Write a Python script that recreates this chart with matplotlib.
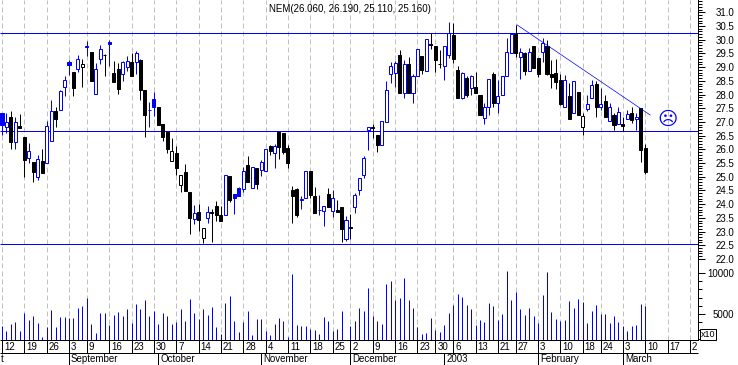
import matplotlib
matplotlib.use("Agg")
import matplotlib.pyplot as plt
from matplotlib.patches import Rectangle
from matplotlib.ticker import MultipleLocator, NullFormatter
import numpy as np

title = "NEM(26.060, 26.190, 25.110, 25.160)"

prev_close = 26.70
opens = [27.31, 26.80, 27.19, 26.28, 26.85, 26.44, 25.70, 25.52, 25.00, 25.56,
         25.51, 26.32, 27.40, 27.44, 28.29, 29.19, 28.82, 28.94, 29.02, 29.75,
         29.55, 28.03, 29.28, 29.45, 29.92, 28.79, 28.93, 28.73, 29.02, 29.19,
         29.19, 29.26, 28.17, 27.43, 27.84, 27.54, 26.92, 26.64, 25.56, 25.85,
         24.69, 25.17, 24.44, 23.47, 23.71, 22.75, 23.51, 23.71, 23.92, 23.59,
         23.62, 25.03, 24.36, 24.58, 24.54, 25.42, 24.57, 25.30, 25.26, 25.22,
         26.12, 25.85, 26.64, 26.58, 26.03, 24.51, 24.55, 24.16, 24.21, 25.19,
         24.29, 23.77, 23.76, 24.36, 23.76, 23.77, 23.88, 22.71, 23.11, 23.88,
         24.53, 25.05, 26.72, 26.81, 26.52, 26.14, 27.01, 28.73, 28.80, 29.44,
         28.04, 29.11, 28.07, 28.69, 29.41, 28.87, 29.83, 29.77, 29.12, 29.05,
         29.45, 30.16, 28.90, 27.89, 28.59, 28.23, 28.26, 27.98, 27.13, 27.56,
         28.75, 27.70, 27.99, 28.66, 29.50, 30.21, 29.36, 29.50, 28.87, 29.77,
         29.32, 29.54, 29.77, 28.76, 28.79, 28.53, 27.56, 27.95, 27.34, 28.09,
         26.83, 27.46, 27.86, 28.38, 27.53, 27.76, 27.02, 27.25, 26.94, 26.91,
         27.09, 27.31, 27.09, 27.50, 26.06]
closes = [26.89, 27.01, 26.28, 27.01, 26.79, 25.61, 25.93, 25.18, 25.63, 25.15,
          26.85, 27.40, 27.11, 28.13, 28.53, 29.08, 28.24, 29.28, 29.10, 29.77,
          28.49, 28.92, 29.65, 29.43, 29.84, 28.46, 28.20, 29.18, 29.21, 28.68,
          29.52, 28.17, 27.25, 27.45, 27.54, 26.90, 26.46, 26.01, 25.93, 25.33,
          25.05, 24.48, 23.49, 23.69, 23.42, 23.12, 23.70, 23.69, 23.62, 23.38,
          25.05, 24.15, 24.24, 24.31, 25.20, 24.82, 25.36, 24.73, 25.52, 26.00,
          25.95, 26.12, 26.07, 25.91, 25.51, 24.29, 23.60, 24.18, 25.19, 24.34,
          23.68, 23.79, 23.93, 23.90, 24.21, 23.72, 23.10, 23.42, 23.18, 24.35,
          24.96, 25.67, 26.80, 26.79, 26.16, 27.03, 28.17, 29.03, 29.14, 28.06,
          29.10, 28.06, 28.66, 29.65, 28.90, 30.01, 29.81, 29.26, 29.10, 29.77,
          30.23, 29.31, 27.89, 28.77, 27.99, 28.66, 28.06, 27.27, 27.53, 28.55,
          27.69, 27.93, 28.66, 29.56, 30.20, 29.50, 29.55, 28.87, 29.56, 28.95,
          28.76, 29.87, 28.76, 28.64, 28.47, 27.65, 28.53, 27.12, 28.49, 27.25,
          27.22, 27.64, 28.34, 27.56, 27.64, 27.17, 27.53, 26.89, 27.35, 26.86,
          27.28, 27.07, 27.17, 25.99, 25.16]
highs = [27.33, 27.31, 27.40, 27.19, 27.29, 26.44, 26.22, 25.52, 25.79, 26.00,
         27.05, 27.80, 27.53, 28.17, 28.68, 29.26, 28.82, 29.44, 29.30, 29.94,
         29.55, 29.14, 29.80, 29.48, 29.99, 29.22, 29.14, 29.22, 29.41, 29.50,
         29.59, 29.28, 28.17, 27.73, 28.09, 27.54, 26.92, 26.64, 26.40, 26.12,
         25.05, 25.46, 24.44, 23.97, 24.00, 23.12, 23.93, 23.82, 24.11, 23.93,
         25.05, 25.03, 24.36, 24.64, 25.35, 25.75, 25.36, 25.30, 25.61, 26.00,
         26.15, 26.21, 26.64, 26.58, 26.15, 24.66, 24.57, 24.29, 25.19, 25.19,
         24.61, 24.35, 23.93, 24.57, 24.51, 24.15, 23.88, 23.56, 23.63, 24.39,
         24.96, 25.75, 26.80, 26.94, 26.52, 27.03, 28.49, 29.18, 29.22, 29.63,
         29.26, 29.38, 28.75, 29.65, 29.41, 30.01, 30.23, 29.77, 29.63, 29.77,
         30.63, 30.62, 29.05, 28.83, 28.69, 28.71, 28.83, 27.98, 27.68, 28.55,
         28.83, 28.53, 28.66, 30.08, 30.20, 30.54, 29.69, 29.55, 29.71, 29.77,
         29.32, 30.05, 29.99, 29.26, 29.28, 28.75, 28.71, 28.41, 28.49, 28.09,
         27.31, 27.98, 28.53, 28.49, 28.23, 27.98, 27.68, 27.33, 27.53, 27.19,
         27.44, 27.53, 27.31, 27.50, 26.19]
lows = [26.52, 26.61, 26.02, 26.02, 26.79, 25.00, 25.49, 24.82, 24.88, 25.15,
        25.51, 26.32, 26.80, 27.44, 27.95, 28.71, 27.95, 28.82, 28.27, 29.41,
        28.49, 28.03, 29.11, 28.68, 29.04, 28.46, 28.02, 28.49, 28.87, 28.68,
        28.75, 27.80, 26.44, 26.82, 27.22, 26.89, 26.32, 25.85, 25.56, 25.06,
        24.45, 24.48, 22.91, 23.27, 23.02, 22.59, 23.32, 22.63, 23.38, 23.38,
        23.62, 24.08, 23.64, 24.31, 24.45, 24.82, 24.57, 24.55, 25.02, 25.22,
        25.79, 25.30, 25.63, 25.82, 25.31, 23.32, 23.54, 23.82, 24.21, 24.23,
        23.68, 23.60, 23.21, 23.90, 23.54, 23.72, 22.62, 22.66, 22.72, 23.68,
        24.33, 24.94, 25.97, 26.42, 25.91, 26.14, 27.01, 28.41, 28.26, 28.06,
        27.86, 28.06, 27.68, 28.69, 28.75, 28.87, 29.65, 28.82, 28.96, 28.53,
        29.32, 29.14, 27.89, 27.84, 27.92, 27.98, 28.06, 27.27, 26.92, 27.25,
        27.56, 27.31, 27.99, 28.66, 29.50, 29.36, 28.58, 28.71, 28.87, 28.95,
        28.65, 29.20, 28.71, 28.23, 28.19, 27.62, 27.53, 27.12, 27.34, 27.25,
        26.52, 27.41, 27.86, 27.19, 27.44, 27.17, 27.02, 26.71, 26.94, 26.67,
        27.09, 26.97, 26.71, 25.55, 25.11]
volumes = [3580, 2970, 3820, 4070, 2970, 5160, 4310, 4800, 3940, 2240,
           3460, 5530, 3460, 4680, 4680, 4550, 4550, 5770, 6020, 6990,
           3820, 2720, 5160, 5160, 3700, 4920, 5290, 4800, 5650, 3940,
           6260, 5650, 6750, 4800, 5410, 3820, 5160, 4800, 3820, 4070,
           5650, 4190, 6870, 5160, 4350, 5650, 4920, 5890, 3460, 2600,
           6380, 7240, 4190, 2850, 4070, 5410, 2480, 4430, 4430, 2970,
           2480, 3820, 4550, 4190, 2160, 9920, 3700, 3580, 3580, 3210,
           3090, 2600, 4680, 4190, 2970, 3210, 5410, 1830, 3580, 4190,
           5770, 5410, 8210, 4800, 4190, 3820, 8700, 9070, 6750, 6990,
           9430, 6750, 5770, 3460, 2600, 2720, 4550, 3090, 2850, 3700,
           5160, 6140, 7480, 7110, 6140, 5650, 3700, 4310, 4070, 6380,
           6020, 4310, 5040, 10290, 6750, 7720, 5650, 4920, 5770, 4800,
           3940, 7360, 10160, 5290, 4430, 4190, 4310, 6630, 5770, 6870,
           6500, 3940, 5410, 6140, 5040, 5040, 3940, 4800, 4070, 3580,
           2970, 3580, 3700, 6260, 6020]

# last tick (the 2 at the edge) is 24 March, cut off in the original
day_ticks = [0, 5, 10, 15, 19, 24, 29, 34, 39, 44, 49, 54, 59, 64, 69, 74, 78, 83, 88,
             93, 97, 101, 106, 111, 115, 120, 125, 130, 134, 139, 144, 149, 154]
day_labels = ["12", "19", "26", "3", "9", "16", "23", "30", "7", "14", "21", "28", "4",
              "11", "18", "25", "2", "9", "16", "23", "30", "6", "13", "21", "27", "3",
              "10", "18", "24", "3", "10", "17", "2"]
month_ticks = [15, 35, 58, 78, 99, 120, 139]
month_labels = ["September", "October", "November", "December", "2003", "February", "March"]

support_levels = [30.23, 26.67, 22.53]
trend_x = [115.3, 145.1]
trend_y = [30.54, 27.25]
frown_pos = (149, 27.1)

BLUE = "#0000ff"
GREY = "#c0c0c0"
THIN = 0.72
W, H = 738, 365
RIGHT = 698
PRICE_BOTTOM = 268
VOL_BOTTOM = 340
XLIM = (-0.45, 155.8)

plt.rcParams["font.family"] = ["Liberation Sans", "DejaVu Sans"]
plt.rcParams["font.size"] = 7


def make_axes(fig, top, bottom):
    ax = fig.add_axes([0, 1 - bottom / H, RIGHT / W, (bottom - top) / H])
    ax.set_xlim(*XLIM)
    for side in ["top", "left", "bottom", "right"]:
        ax.spines[side].set_visible(False)
    ax.set_xticks([])
    ax.set_yticks([])
    return ax


def style_right_axis(ax):
    ax.spines["right"].set_visible(True)
    ax.spines["right"].set_linewidth(THIN)
    ax.yaxis.tick_right()
    ax.tick_params(axis="y", which="major", length=5, width=THIN, pad=21)
    ax.tick_params(axis="y", which="minor", length=2.9, width=THIN)
    for label in ax.get_yticklabels():
        label.set_ha("right")


def draw_candles(ax):
    idx = np.arange(len(opens))
    prev = np.array([prev_close] + closes[:-1])
    o, h, l, c = map(np.array, (opens, highs, lows, closes))
    colors = np.where(c >= prev, BLUE, "black")
    faces = [("white" if cl > op else col) for op, cl, col in zip(o, c, colors)]
    ax.vlines(idx, l, h, colors=colors, linewidth=THIN, zorder=3)
    ax.bar(idx, np.abs(c - o), bottom=np.minimum(o, c), width=0.68, color=faces,
           edgecolor=colors, linewidth=THIN, zorder=4)


def main():
    fig = plt.figure(figsize=(W / 100, H / 100), dpi=100, facecolor="white")

    # price panel
    ax = make_axes(fig, 0, PRICE_BOTTOM)
    ax.set_ylim(25 - (PRICE_BOTTOM - 176.7) / 27.4, 25 + 176.7 / 27.4)
    ax.vlines(day_ticks, *ax.get_ylim(), colors=GREY, linewidth=THIN,
              linestyles=(0, (5, 3)), zorder=1)
    ax.hlines(support_levels, *XLIM, colors=BLUE, linewidth=THIN, zorder=2)
    draw_candles(ax)
    ax.plot(trend_x, trend_y, color=BLUE, linewidth=THIN * 0.7, zorder=5)
    ax.text(*frown_pos, "\u2639", color=BLUE, fontsize=14, family="DejaVu Sans",
            ha="center", va="center", zorder=5)
    ax.set_yticks(np.arange(22, 31.5, 0.5))
    ax.set_yticks(np.arange(22, 31.45, 0.1), minor=True)
    ax.set_yticklabels(["%.1f" % t for t in np.arange(22, 31.5, 0.5)])
    style_right_axis(ax)
    fig.text(350 / W, 1 - 8.5 / H, title, ha="center", va="center")

    # volume panel
    vol = make_axes(fig, PRICE_BOTTOM, VOL_BOTTOM)
    vol.set_ylim(5000 - 26 * 122, 5000 + 46 * 122)
    vol.vlines(day_ticks, *vol.get_ylim(), colors=GREY, linewidth=THIN,
               linestyles=(0, (5, 3)), zorder=1)
    vol.vlines(np.arange(len(volumes)), vol.get_ylim()[0], volumes, colors=BLUE,
               linewidth=THIN, zorder=3)
    vol.yaxis.set_major_locator(MultipleLocator(5000))
    vol.yaxis.set_minor_locator(MultipleLocator(1000))
    vol.yaxis.set_major_formatter(lambda v, pos: "%d" % v)
    vol.yaxis.set_minor_formatter(NullFormatter())
    style_right_axis(vol)

    # date band under the chart
    band = make_axes(fig, VOL_BOTTOM, H)
    band.set_ylim(25, 0)
    band.hlines([0.2, 13], *XLIM, colors="black", linewidth=THIN, clip_on=False)
    band.vlines(day_ticks, 0, 13, colors="black", linewidth=THIN)
    band.vlines(month_ticks, 13, 25, colors="black", linewidth=THIN)
    for tick, label in zip(day_ticks, day_labels):
        band.annotate(label, (tick, 7), xytext=(2, 0), textcoords="offset pixels",
                      va="center", annotation_clip=False)
    for tick, label in zip(month_ticks, month_labels):
        band.annotate(label, (tick, 19.5), xytext=(2, 0), textcoords="offset pixels",
                      va="center", annotation_clip=False)
    band.annotate("t", (XLIM[0], 19.5), xytext=(1, 0), textcoords="offset pixels", va="center")

    # multiplier box next to the axis
    fig.add_artist(Rectangle((700 / W, 1 - 340 / H), 16 / W, 11 / H, transform=fig.transFigure,
                             facecolor="white", edgecolor="black", linewidth=THIN))
    fig.text(708 / W, 1 - 334.5 / H, "x10", ha="center", va="center", fontsize=6.5)

    fig.savefig("out.png", dpi=100, facecolor="white")


if __name__ == "__main__":
    main()
